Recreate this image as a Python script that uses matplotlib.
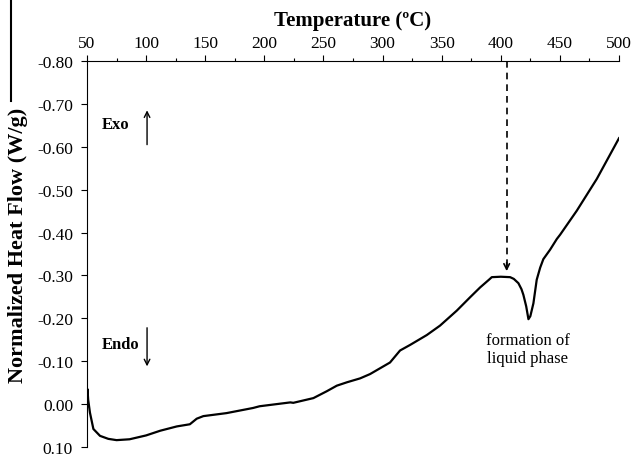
import numpy as np
import matplotlib
matplotlib.use("Agg")
import matplotlib.pyplot as plt
from matplotlib.lines import Line2D
from matplotlib.ticker import MultipleLocator, FormatStrFormatter

plt.rcParams['font.family'] = ['Liberation Serif', 'DejaVu Serif']

# DSC trace (temperature in C, heat flow in W/g)
temperature = [50.0, 50.4, 51.0, 52.5, 55.4, 61, 68, 75, 86, 100, 112, 126, 137,
               142.8, 148.4, 168, 190.5, 196, 222, 224.5, 241.5, 252.8, 261.3,
               270, 281, 289.4, 306.3, 314.8, 323.3, 337.4, 348.6, 362.8, 374,
               382.5, 390, 392.4, 400, 407.9, 411, 414.9, 417.5, 419.1, 421.5,
               423.4, 425, 427.6, 430.4, 433.3, 436, 441.7, 447.4, 450.2, 464.3,
               481.2, 500]
heat_flow = [0.005, -0.035, -0.01, 0.02, 0.058, 0.074, 0.081, 0.084, 0.082, 0.073,
             0.062, 0.052, 0.047, 0.034, 0.028, 0.021, 0.009, 0.005, -0.004,
             -0.003, -0.014, -0.030, -0.043, -0.051, -0.060, -0.070, -0.097,
             -0.125, -0.138, -0.161, -0.183, -0.218, -0.249, -0.272, -0.290,
             -0.296, -0.297, -0.296, -0.292, -0.282, -0.268, -0.255, -0.228,
             -0.198, -0.205, -0.235, -0.290, -0.318, -0.338, -0.360, -0.385,
             -0.395, -0.451, -0.525, -0.620]

liquid_temp = 405
liquid_label = "formation of\nliquid phase"

fig = plt.figure(figsize=(6.35, 4.6), dpi=100)
ax = fig.add_axes([87/635, 1 - 448/460, 532/635, 386/460])

ax.plot(temperature, heat_flow, color='black', lw=1.6)

ax.set_xlim(50, 500)
ax.set_ylim(0.10, -0.80)

# axis on top, only left/top spines
ax.spines['bottom'].set_visible(False)
ax.spines['right'].set_visible(False)
ax.xaxis.tick_top()
ax.xaxis.set_major_locator(MultipleLocator(50))
ax.xaxis.set_minor_locator(MultipleLocator(25))
ax.yaxis.set_major_locator(MultipleLocator(0.1))
ax.yaxis.set_major_formatter(FormatStrFormatter('%.2f'))
ax.tick_params(axis='x', which='major', direction='out', length=4, width=0.8,
               pad=3, labelsize=12.5)
ax.tick_params(axis='x', which='minor', direction='out', length=2.5, width=0.8)
ax.tick_params(axis='y', direction='out', length=4, width=0.8, pad=6,
               labelsize=12.5)

ax.xaxis.set_label_position('top')
ax.set_xlabel('Temperature (ºC)', fontsize=15, fontweight='bold')
ax.xaxis.set_label_coords(0.5, 1.094)
ax.set_ylabel('Normalized Heat Flow (W/g)', fontsize=16, fontweight='bold')
ax.yaxis.set_label_coords(-0.111, 0.526)

# dashed marker for the liquid phase
ax.plot([liquid_temp, liquid_temp], [-0.80, -0.32], color='black', lw=1.2,
        dashes=(4, 3))
ax.annotate('', xy=(liquid_temp, -0.31), xytext=(liquid_temp, -0.33),
            arrowprops=dict(arrowstyle='->', color='black', lw=1.2,
                            shrinkA=0, shrinkB=0))
ax.text(423, -0.128, liquid_label, ha='center', va='center', fontsize=12)

# Exo / Endo indicators
ax.text(62.7, -0.653, 'Exo', ha='left', va='center', fontsize=12,
        fontweight='bold')
ax.annotate('', xy=(100.8, -0.685), xytext=(100.8, -0.605),
            arrowprops=dict(arrowstyle='->', color='black', lw=1,
                            shrinkA=0, shrinkB=0))
ax.text(62.7, -0.139, 'Endo', ha='left', va='center', fontsize=12,
        fontweight='bold')
ax.annotate('', xy=(100.8, -0.088), xytext=(100.8, -0.178),
            arrowprops=dict(arrowstyle='->', color='black', lw=1,
                            shrinkA=0, shrinkB=0))

# stray border line at the left edge of the original scan
fig.add_artist(Line2D([11/635, 11/635], [1, 1 - 102/460],
                      transform=fig.transFigure, color='black', lw=1.5))

fig.savefig('out.png', dpi=100)
